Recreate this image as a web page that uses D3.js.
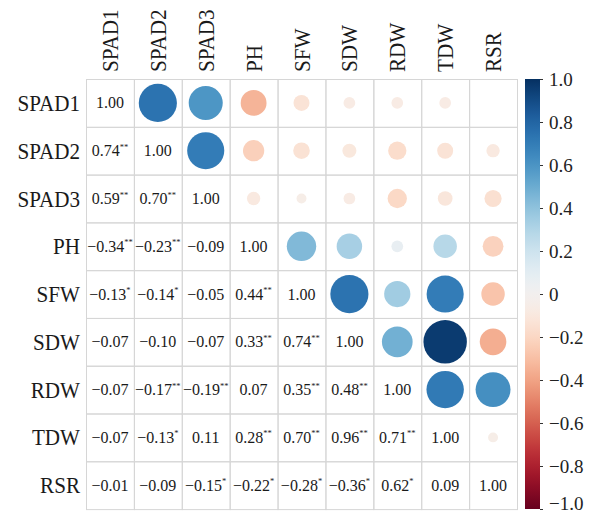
<!DOCTYPE html>
<html>
<head>
<meta charset="utf-8">
<script src="https://cdn.jsdelivr.net/npm/d3@7"></script>
<style>
  html, body { margin: 0; padding: 0; background: #fff; }
  svg { display: block; font-family: "Liberation Serif", "Times New Roman", serif; }
</style>
</head>
<body>
<svg id="chart" width="595" height="516"></svg>
<script>
// ---- data ----
const variables = ["SPAD1", "SPAD2", "SPAD3", "PH", "SFW", "SDW", "RDW", "TDW", "RSR"];

// lower triangle correlation values (row i, columns 0..i-1)
const lowerValues = [
  [],
  [0.74],
  [0.59, 0.70],
  [-0.34, -0.23, -0.09],
  [-0.13, -0.14, -0.05, 0.44],
  [-0.07, -0.10, -0.07, 0.33, 0.74],
  [-0.07, -0.17, -0.19, 0.07, 0.35, 0.48],
  [-0.07, -0.13, 0.11, 0.28, 0.70, 0.96, 0.71],
  [-0.01, -0.09, -0.15, -0.22, -0.28, -0.36, 0.62, 0.09]
];
const lowerStars = [
  [],
  ["**"],
  ["**", "**"],
  ["**", "**", ""],
  ["*", "*", "", "**"],
  ["", "", "", "**", "**"],
  ["", "**", "**", "", "**", "**"],
  ["", "*", "", "**", "**", "**", "**"],
  ["", "", "*", "*", "*", "*", "*", ""]
];
// upper triangle circle values as drawn (row i, columns i+1..8)
const upperValues = [
  [0.74, 0.59, -0.34, -0.13, -0.07, -0.07, -0.07, -0.01],
  [0.70, -0.23, -0.14, -0.10, -0.17, -0.13, -0.09],
  [-0.09, -0.05, -0.07, -0.19, -0.11, -0.15],
  [0.44, 0.33, 0.07, 0.28, -0.22],
  [0.74, 0.35, 0.70, -0.28],
  [0.48, 0.96, -0.36],
  [0.71, 0.62],
  [-0.05]
];
const colorbarTicks = [1.0, 0.8, 0.6, 0.4, 0.2, 0, -0.2, -0.4, -0.6, -0.8, -1.0];

// ---- layout ----
const svg = d3.select("#chart");
const gridLeft = 86, gridTop = 79, gridRight = 517, gridBottom = 509;

const x = d3.scaleBand().domain(variables).range([gridLeft, gridRight]);
const y = d3.scaleBand().domain(variables).range([gridTop, gridBottom]);
const color = d3.scaleSequential(t => d3.interpolateRdBu(t)).domain([-1, 1]);
const cs = x.bandwidth();
const radius = d3.scaleSqrt().domain([0, 1]).range([0, cs * 0.463]);
const fmt = d3.format(".2f");

// cells
const cells = [];
variables.forEach((rv, i) => {
  variables.forEach((cv, j) => {
    let type, v = null, s = "";
    if (i === j) { type = "diag"; v = 1; }
    else if (j < i) { type = "text"; v = lowerValues[i][j]; s = lowerStars[i][j]; }
    else { type = "circle"; v = upperValues[i][j - i - 1]; }
    cells.push({ row: rv, col: cv, type, v, s });
  });
});

// grid
const grid = svg.append("g");
grid.selectAll("rect").data(cells).join("rect")
  .attr("x", d => x(d.col) + 0.5)
  .attr("y", d => y(d.row) + 0.5)
  .attr("width", cs)
  .attr("height", cs)
  .attr("fill", "none")
  .attr("stroke", "#d6d6d6")
  .attr("stroke-width", 1);

// circles
svg.append("g").selectAll("circle")
  .data(cells.filter(d => d.type === "circle" && Math.abs(d.v) > 0.02))
  .join("circle")
  .attr("cx", d => x(d.col) + cs / 2)
  .attr("cy", d => y(d.row) + cs / 2)
  .attr("r", d => radius(Math.abs(d.v)))
  .attr("fill", d => color(d.v));

// texts
const txt = svg.append("g").selectAll("text")
  .data(cells.filter(d => d.type !== "circle"))
  .join("text")
  .attr("x", d => x(d.col) + cs / 2)
  .attr("y", d => y(d.row) + cs / 2 + 5.5)
  .attr("text-anchor", "middle")
  .attr("font-size", 16)
  .attr("fill", "#1a1a1a");
txt.append("tspan").text(d => fmt(d.v));
txt.filter(d => d.s).append("tspan")
  .attr("font-size", 8.5)
  .attr("dy", -6.5)
  .text(d => d.s);

// row labels
svg.append("g").selectAll("text")
  .data(variables).join("text")
  .attr("transform", d => `translate(80,${y(d) + cs / 2 + 8}) scale(0.88,1)`)
  .attr("text-anchor", "end")
  .attr("font-size", 24)
  .attr("fill", "#1a1a1a")
  .text(d => d);

// column labels
svg.append("g").selectAll("text")
  .data(variables).join("text")
  .attr("transform", d => `translate(${x(d) + cs / 2 + 8},72) rotate(-90) scale(0.88,1)`)
  .attr("text-anchor", "start")
  .attr("font-size", 24)
  .attr("fill", "#1a1a1a")
  .text(d => d);

// colorbar
const cbX = 525, cbW = 15;
const defs = svg.append("defs");
const grad = defs.append("linearGradient")
  .attr("id", "cbgrad")
  .attr("x1", 0).attr("y1", 1).attr("x2", 0).attr("y2", 0);
d3.range(0, 1.0001, 0.02).forEach(t => {
  grad.append("stop").attr("offset", t).attr("stop-color", d3.interpolateRdBu(t));
});
const cbScale = d3.scaleLinear().domain([-1, 1]).range([gridBottom, gridTop]);
svg.append("rect")
  .attr("x", cbX).attr("y", gridTop)
  .attr("width", cbW).attr("height", gridBottom - gridTop)
  .attr("fill", "url(#cbgrad)");

const cbAxis = d3.axisRight(cbScale)
  .tickValues(colorbarTicks)
  .tickSize(3)
  .tickPadding(6)
  .tickFormat(d => d === 0 ? "0" : d3.format(".1f")(d));
const ax = svg.append("g")
  .attr("transform", `translate(${cbX + cbW},0)`)
  .call(cbAxis);
ax.select(".domain").remove();
ax.selectAll("text")
  .attr("font-family", "Liberation Serif, serif")
  .attr("font-size", 19)
  .attr("fill", "#222");
// keep the bottom label inside the picture
ax.selectAll("text").filter(d => d === -1).attr("dy", "0.05em");
ax.selectAll("line").attr("stroke", "#333");
</script>
</body>
</html>
